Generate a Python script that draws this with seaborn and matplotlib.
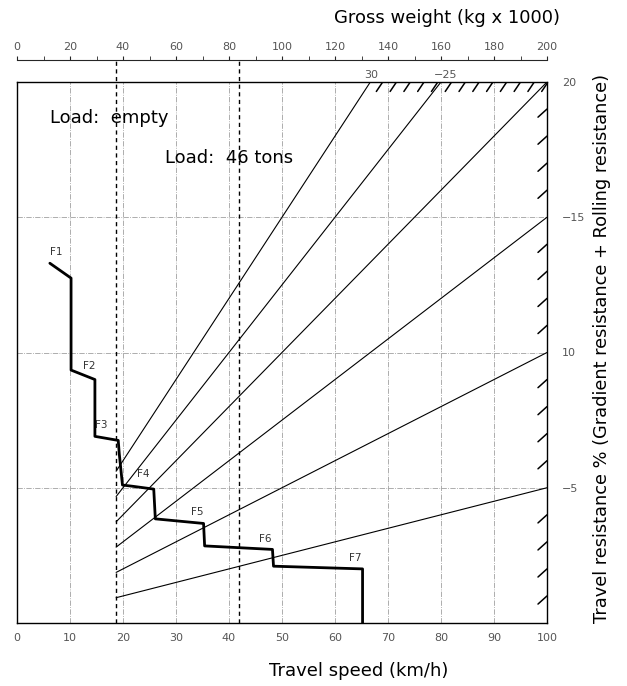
import numpy as np
import pandas as pd
import matplotlib
matplotlib.use("Agg")
import matplotlib.pyplot as plt
import seaborn as sns

# travel resistance lines (%), one per diagonal
resistance = [5, 10, 15, 20, 25, 30]
empty_weight = 37.4     # kg x 1000
loaded_weight = 83.6    # empty + 46 t

# rimpull step curve (speed km/h, resistance %)
step_speed = [6.2, 10.2, 10.2, 14.7, 14.7, 19.1, 19.3, 19.9, 22.0, 25.8, 26.1, 35.2, 35.4, 48.2, 48.4, 65.2, 65.2]
step_res = [13.3, 12.75, 9.35, 9.0, 6.9, 6.75, 6.25, 5.1, 5.05, 4.95, 3.85, 3.68, 2.85, 2.72, 2.1, 2.0, 0.0]

gear_names = ["F1", "F2", "F3", "F4", "F5", "F6", "F7"]
gear_x = [6.2, 12.4, 14.8, 22.6, 32.8, 45.6, 62.6]
gear_y = [13.6, 9.4, 7.2, 5.4, 4.0, 3.0, 2.3]

speed_ticks = list(range(0, 101, 10))
weight_ticks = list(range(0, 201, 20))
right_ticks = [5, 10, 15, 20]
right_labels = ["\u22125", "10", "\u221215", "20"]

sns.set_style("white")
plt.rcParams["font.family"] = ["DejaVu Sans"]
plt.rcParams["text.color"] = "black"

fig = plt.figure(figsize=(6.27, 6.86), dpi=100)
ax = fig.add_axes([17 / 627, 1 - 623 / 686, 530 / 627, 541 / 686])

# diagonal resistance lines start at empty-weight speed
rows = []
v0 = empty_weight / 2
for r in resistance:
    v1 = min(100, 2000 / r)
    for v in [v0, v1]:
        rows.append({"speed": v, "res": r * v / 100, "line": r})
lines = pd.DataFrame(rows)
sns.lineplot(data=lines, x="speed", y="res", units="line", estimator=None,
             color="black", lw=0.8, ax=ax, legend=False)

# gear step curve
steps = pd.DataFrame({"speed": step_speed, "res": step_res, "g": 0})
sns.lineplot(data=steps, x="speed", y="res", units="g", estimator=None, sort=False,
             color="black", lw=2.0, ax=ax, legend=False)

for name, x, y in zip(gear_names, gear_x, gear_y):
    ax.text(x, y, name, fontsize=7.5, color="#333333")

# grid
for v in speed_ticks[1:-1]:
    ax.axvline(v, color="#a0a0a0", lw=0.6, ls="-.", zorder=0)
for y in [5, 10, 15]:
    ax.axhline(y, color="#a0a0a0", lw=0.6, ls="-.", zorder=0)

# empty / loaded markers
top = 20 * (623 - 60) / 541
for w in [empty_weight, loaded_weight]:
    ax.plot([w / 2, w / 2], [0, top], color="black", lw=1.0, ls=(0, (3, 2.5)), clip_on=False)

# hatches for out-of-range region
for v in np.arange(69, 101, 2.6):
    ax.plot([v - 1.2, v], [19.65, 20], color="black", lw=1.1)
for k in range(1, 20):
    if k % 5:
        ax.plot([98.3, 100], [k - 0.3, k], color="black", lw=1.1)

ax.text(66.8, 20.15, "30", fontsize=8, color="#555555", ha="center")
ax.text(80.8, 20.15, "\u221225", fontsize=8, color="#555555", ha="center")

ax.text(6.2, 18.5, "Load:  empty", fontsize=13)
ax.text(28.0, 17.0, "Load:  46 tons", fontsize=13)

ax.set_xlim(0, 100)
ax.set_ylim(0, 20)
ax.set_xticks(speed_ticks)
ax.set_xticks(range(5, 100, 10), minor=True)
ax.tick_params(axis="x", which="both", direction="inout", length=5, labelsize=8,
               labelcolor="#555555", pad=5)
ax.set_xlabel("")
ax.set_ylabel("")
ax.set_yticks([])
for s in ax.spines.values():
    s.set_color("black")
    s.set_linewidth(1.0)

ry = ax.secondary_yaxis("right")
ry.set_yticks(right_ticks, right_labels)
ry.tick_params(length=0, labelsize=8, labelcolor="#555555", pad=11)
ry.spines["right"].set_visible(False)

gw = ax.secondary_xaxis((623 - 60) / 541, functions=(lambda v: 2 * v, lambda w: w / 2))
gw.set_xticks(weight_ticks)
gw.set_xticks(range(10, 200, 20), minor=True)
gw.tick_params(which="both", direction="out", length=3, labelsize=8,
               labelcolor="#555555", pad=3)
gw.spines["top"].set_linewidth(0.8)

fig.text(447 / 627, 1 - 18 / 686, "Gross weight (kg x 1000)", fontsize=13,
         ha="center", va="center")
fig.text(359 / 627, 1 - 671 / 686, "Travel speed (km/h)", fontsize=13,
         ha="center", va="center")
fig.text(602 / 627, 1 - 348 / 686,
         "Travel resistance % (Gradient resistance + Rolling resistance)",
         fontsize=12.8, rotation=90, ha="center", va="center")

fig.savefig("out.png", dpi=100)
